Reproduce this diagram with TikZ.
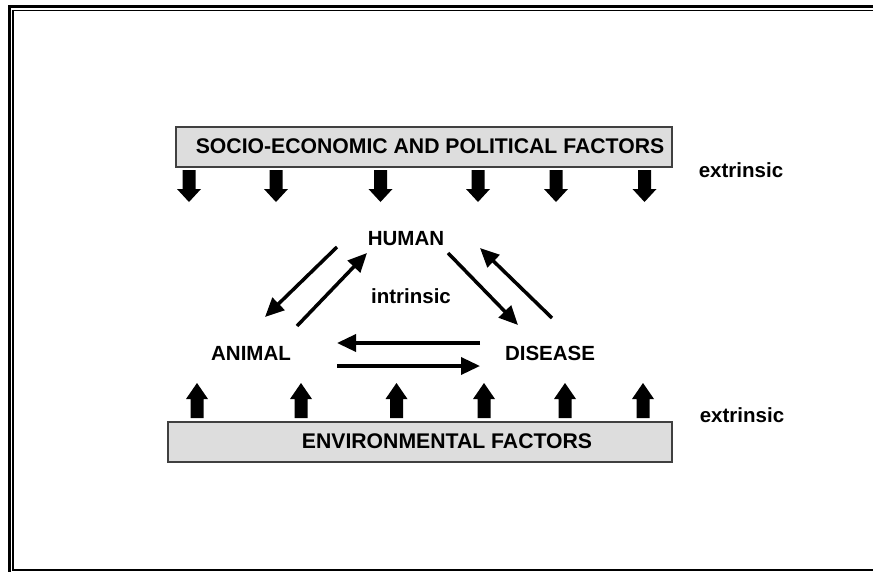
\documentclass[tikz,border=0pt]{standalone}
\usepackage{fontspec}
\setmainfont{Liberation Sans}
\usetikzlibrary{arrows.meta}
\definecolor{boxgray}{RGB}{221,221,221}
\definecolor{boxedge}{RGB}{64,64,64}

\tikzset{
  factor/.style={font=\fontsize{21.2}{21.2}\selectfont\bfseries, inner sep=0pt},
  vertex/.style={font=\fontsize{20.5}{20.5}\selectfont\bfseries, inner sep=0pt},
  side/.style={font=\fontsize{20.5}{20.5}\selectfont\bfseries, inner sep=0pt},
  link/.style={line width=3.5pt, -{Triangle[length=19pt,width=17pt]}},
  downarr/.pic={\fill (-6.5,0) -- (6.5,0) -- (6.5,19) -- (12,19) -- (0,32) -- (-12,19) -- (-6.5,19) -- cycle;},
  uparr/.pic={\fill (-6.5,0) -- (6.5,0) -- (6.5,-19) -- (11,-19) -- (0,-35) -- (-11,-19) -- (-6.5,-19) -- cycle;}
}

\begin{document}
\begin{tikzpicture}[x=1pt,y=-1pt]
        \useasboundingbox (0,0) rectangle (873,571);
        % frame
        \draw[line width=3.4pt] (9.2,575) -- (9.2,6.7) -- (880,6.7);
        \draw[line width=1.4pt] (880,10.3) -- (13,10.3) -- (13,569.8) -- (880,569.8);
        % factor boxes
        \filldraw[fill=boxgray, draw=boxedge, line width=1.2pt] (176,127) rectangle (672,167);
        \filldraw[fill=boxgray, draw=boxedge, line width=1.2pt] (168,422) rectangle (672,462);
        \node[factor] (socio) at (430,146) {SOCIO-ECONOMIC AND POLITICAL FACTORS};
        \node[factor] (env) at (447,441.5) {ENVIRONMENTAL FACTORS};
        \node[side] (ext1) at (741,170) {extrinsic};
        \node[side] (ext2) at (742,415.5) {extrinsic};
        % block arrows
        \pic at (189,170) {downarr};
        \pic at (276,170) {downarr};
        \pic at (380.5,170) {downarr};
        \pic at (478,170) {downarr};
        \pic at (556,170) {downarr};
        \pic at (644.5,170) {downarr};
        \pic at (197,418) {uparr};
        \pic at (301,418) {uparr};
        \pic at (396.5,418) {uparr};
        \pic at (484,418) {uparr};
        \pic at (565,418) {uparr};
        \pic at (643,418) {uparr};
        % triangle
        \node[vertex] (human) at (406,239) {HUMAN};
        \node[vertex] (animal) at (251,353) {ANIMAL};
        \node[vertex] (disease) at (550,353) {DISEASE};
        \node[side] (intr) at (411,296.5) {intrinsic};
        \coordinate (ha0) at (337,247);
        \coordinate (ha1) at (265,317);
        \coordinate (ah0) at (297,326);
        \coordinate (ah1) at (367,253);
        \coordinate (hd0) at (448,253);
        \coordinate (hd1) at (518,325);
        \coordinate (dh0) at (552,318);
        \coordinate (dh1) at (480,248);
        \coordinate (da0) at (480,343);
        \coordinate (da1) at (337,343);
        \coordinate (ad0) at (337,366);
        \coordinate (ad1) at (480,366);
        \draw[link] (ha0) -- (ha1);
        \draw[link] (ah0) -- (ah1);
        \draw[link] (hd0) -- (hd1);
        \draw[link] (dh0) -- (dh1);
        \draw[link] (da0) -- (da1);
        \draw[link] (ad0) -- (ad1);
\end{tikzpicture}
\end{document}
